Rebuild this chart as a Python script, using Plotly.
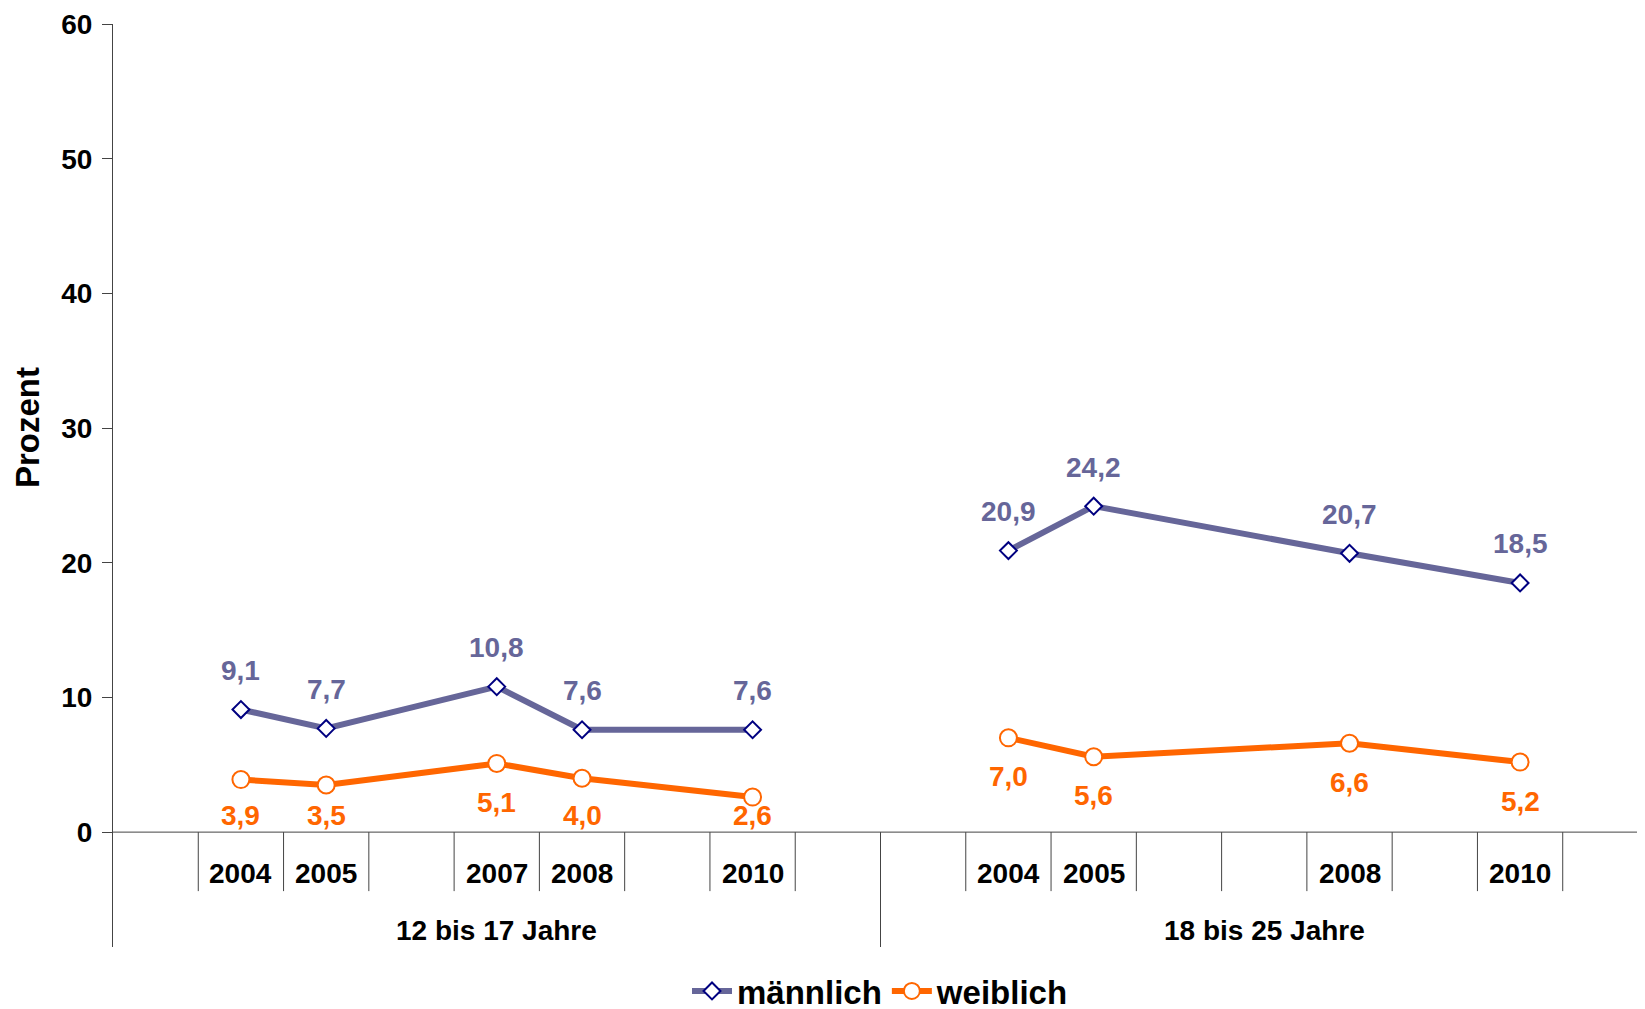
import plotly.graph_objects as go

# ---- data ----
groups = ["12 bis 17 Jahre", "18 bis 25 Jahre"]
slot_years = [2003, 2004, 2005, 2006, 2007, 2008, 2009, 2010, 2011]  # category slots per group
years_12_17 = [2004, 2005, 2007, 2008, 2010]
male_12_17 = [9.1, 7.7, 10.8, 7.6, 7.6]
female_12_17 = [3.9, 3.5, 5.1, 4.0, 2.6]
years_18_25 = [2004, 2005, 2008, 2010]
male_18_25 = [20.9, 24.2, 20.7, 18.5]
female_18_25 = [7.0, 5.6, 6.6, 5.2]
y_ticks = [0, 10, 20, 30, 40, 50, 60]
series_names = ["männlich", "weiblich"]
y_title = "Prozent"

MALE_LINE = "#666699"
MALE_EDGE = "#000080"
FEMALE = "#FF6600"
AXIS = "#444444"
FONT = "Liberation Sans, Arial, sans-serif"

n_slots = len(slot_years)
n_total = n_slots * len(groups)


def xpos(g, year):
    return g * n_slots + slot_years.index(year) + 0.5


group_data = [
    (years_12_17, male_12_17, female_12_17),
    (years_18_25, male_18_25, female_18_25),
]

fig = go.Figure()
annotations = []
shapes = []

Y_MIN = -8.53
TICK_END = -4.38
YEAR_LBL = -3.04
GROUP_LBL = -7.27

for g, (yrs, male, female) in enumerate(group_data):
    xs = [xpos(g, y) for y in yrs]
    fig.add_trace(go.Scatter(
        x=xs, y=male, mode="lines+markers", name=series_names[0],
        legendgroup="m", showlegend=(g == 0),
        line=dict(color=MALE_LINE, width=6),
        marker=dict(symbol="diamond", size=13, color="white",
                    line=dict(color=MALE_EDGE, width=2)),
        cliponaxis=False,
    ))
    fig.add_trace(go.Scatter(
        x=xs, y=female, mode="lines+markers", name=series_names[1],
        legendgroup="f", showlegend=(g == 0),
        line=dict(color=FEMALE, width=6),
        marker=dict(symbol="circle", size=17, color="white",
                    line=dict(color=FEMALE, width=2)),
        cliponaxis=False,
    ))
    for x, v in zip(xs, male):
        annotations.append(dict(
            x=x, y=v, yshift=39, text=f"{v:.1f}".replace(".", ","),
            showarrow=False, xanchor="center", yanchor="middle",
            font=dict(family=FONT, size=28, color=MALE_LINE, weight="bold")))
    for x, v in zip(xs, female):
        annotations.append(dict(
            x=x, y=max(v - 2.9, 1.25), text=f"{v:.1f}".replace(".", ","),
            showarrow=False, xanchor="center", yanchor="middle",
            font=dict(family=FONT, size=28, color=FEMALE, weight="bold")))
    # year labels
    for y in yrs:
        annotations.append(dict(
            x=xpos(g, y), y=YEAR_LBL, text=str(y), showarrow=False,
            xanchor="center", yanchor="middle",
            font=dict(family=FONT, size=28, color="black", weight="bold")))
    # group label
    annotations.append(dict(
        x=g * n_slots + n_slots / 2, y=GROUP_LBL, text=groups[g], showarrow=False,
        xanchor="center", yanchor="middle",
        font=dict(family=FONT, size=28, color="black", weight="bold")))
    # tick separators
    for k in range(1, n_slots):
        shapes.append(dict(type="line", xref="x", yref="y",
                           x0=g * n_slots + k, x1=g * n_slots + k,
                           y0=0, y1=TICK_END,
                           line=dict(color=AXIS, width=1)))
    if g > 0:
        shapes.append(dict(type="line", xref="x", yref="y",
                           x0=g * n_slots, x1=g * n_slots, y0=0, y1=Y_MIN,
                           line=dict(color=AXIS, width=1)))

# x axis line at 0
shapes.append(dict(type="line", xref="x", yref="y", x0=0, x1=n_total, y0=0, y1=0,
                   line=dict(color=AXIS, width=1)))

# y axis title, centred on the value range
annotations.append(dict(
    xref="paper", yref="y", x=0, y=(y_ticks[0] + y_ticks[-1]) / 2, xshift=-86,
    text=y_title, textangle=-90, showarrow=False, xanchor="center", yanchor="middle",
    font=dict(family=FONT, size=33, color="black", weight="bold")))

FIG_W, FIG_H = 1645, 1030
M_L, M_R, M_T = 105, 5, 16
plot_h = 923
M_B = FIG_H - M_T - plot_h

fig.update_layout(
    width=FIG_W, height=FIG_H,
    margin=dict(l=M_L, r=M_R, t=M_T, b=M_B),
    paper_bgcolor="white", plot_bgcolor="white",
    font=dict(family=FONT, color="black"),
    xaxis=dict(range=[0, n_total], visible=False, showgrid=False, zeroline=False,
               automargin=False),
    yaxis=dict(range=[Y_MIN, 60], tickvals=y_ticks, ticktext=[str(t) for t in y_ticks],
               showgrid=False, zeroline=False, showline=True, linecolor=AXIS, linewidth=1,
               ticks="outside", ticklen=10, tickcolor=AXIS, ticklabelstandoff=4,
               automargin=False, ticklabeloverflow="allow",
               tickfont=dict(family=FONT, size=28, color="black", weight="bold")),
    legend=dict(orientation="h", x=0.5, xanchor="center", y=-72 / plot_h,
                yanchor="bottom",
                font=dict(family=FONT, size=33, color="black", weight="bold"),
                itemwidth=40, bgcolor="rgba(0,0,0,0)", borderwidth=0),
    annotations=annotations,
    shapes=shapes,
    showlegend=True,
)

fig.write_html("out.html")
